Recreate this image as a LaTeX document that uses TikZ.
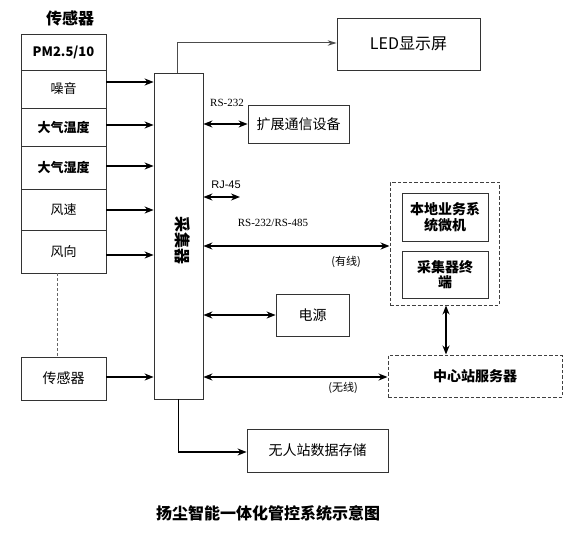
\documentclass[tikz,border=0pt]{standalone}
\usepackage{fontspec}
\setmainfont{Noto Sans CJK SC}
\newfontfamily\serifrs{Liberation Serif}
\newfontfamily\sansrs{Liberation Sans}
\usetikzlibrary{arrows.meta,calc}
\newcommand{\fs}[1]{\fontsize{#1}{#1}\selectfont}
\tikzset{
  box/.style={draw=black!80, line width=0.8pt, inner sep=0pt, align=center},
  dbox/.style={draw=black!75, line width=1pt, dash pattern=on 3.5pt off 2pt, inner sep=0pt, align=center},
  arr/.style={line width=1.5pt, -{Stealth[length=9pt,width=7pt]}},
  darr/.style={line width=1.5pt, {Stealth[length=9pt,width=7pt]}-{Stealth[length=9pt,width=7pt]}},
  thinarr/.style={draw=black!70, line width=1pt, -{Stealth[length=9pt,width=5.5pt]}},
  lbl/.style={inner sep=0pt},
}
\begin{document}
\begin{tikzpicture}[x=1pt,y=-1pt]
\useasboundingbox (0,0) rectangle (569,543);
% sensors
\node[lbl,font=\fs{16}\bfseries] (sttl) at (70,18) {传感器};
\node[box,minimum width=85,minimum height=36,font=\fs{13}\bfseries] (pm) at (63.5,52) {PM2.5/10};
\node[box,minimum width=85,minimum height=38,font=\fs{13}] (zy) at (63.5,89) {噪音};
\node[box,minimum width=85,minimum height=38,font=\fs{13}\bfseries] (wd) at (63.5,127) {大气温度};
\node[box,minimum width=85,minimum height=43,font=\fs{13}\bfseries] (sd) at (63.5,167.5) {大气湿度};
\node[box,minimum width=85,minimum height=41,font=\fs{13}] (fs) at (63.5,209.5) {风速};
\node[box,minimum width=85,minimum height=43,font=\fs{13}] (fx) at (63.5,251.5) {风向};
\node[box,minimum width=85,minimum height=43,font=\fs{14}] (cg) at (63.5,378.5) {传感器};
% collector
\node[box,minimum width=49,minimum height=326] (coll) at (178.5,236) {};
\node[lbl,rotate=-90,font=\fs{16}\bfseries] (colltxt) at (183,240) {采集器};
% right side boxes
\node[box,minimum width=143,minimum height=52,font=\fs{16}] (led) at (408.5,44) {LED显示屏};
\node[box,minimum width=101,minimum height=38,font=\fs{14}] (ext) at (298.5,124) {扩展通信设备};
\node[box,minimum width=73,minimum height=42,font=\fs{14}] (pw) at (312.5,315) {电源};
\node[box,minimum width=141,minimum height=43,font=\fs{14}] (st) at (317.5,450.5) {无人站数据存储};
\node[dbox,minimum width=109,minimum height=123] (grp) at (444.5,243.5) {};
\node[box,minimum width=86,minimum height=48,font=\fs{14}\bfseries] (loc) at (445,217) {本地业务系\\[2pt]统微机};
\node[box,minimum width=86,minimum height=47,font=\fs{14}\bfseries] (term) at (445,274.5) {采集器终\\[1pt]端};
\node[dbox,minimum width=174,minimum height=42,font=\fs{14}\bfseries] (srv) at (475,376) {中心站服务器};
% sensor arrows
\draw[arr] ([yshift=7pt]zy.east) -- ([yshift=7pt]zy.east -| coll.west);
\draw[arr] ([yshift=2pt]wd.east) -- ([yshift=2pt]wd.east -| coll.west);
\draw[arr] ([yshift=1.5pt]sd.east) -- ([yshift=1.5pt]sd.east -| coll.west);
\draw[arr] ([yshift=-0.5pt]fs.east) -- ([yshift=-0.5pt]fs.east -| coll.west);
\draw[arr] ([yshift=-3.5pt]fx.east) -- ([yshift=-3.5pt]fx.east -| coll.west);
\draw[arr] ([yshift=1.5pt]cg.east) -- ([yshift=1.5pt]cg.east -| coll.west);
\draw[draw=black!60, line width=0.9pt, dash pattern=on 3pt off 2pt] ([xshift=-6.5pt]fx.south) -- ([xshift=-6.5pt]cg.north);
% collector outputs
\draw[thinarr] ([xshift=-1.5pt]coll.north) |- ([yshift=1pt]led.west);
\draw[darr] (ext.west -| coll.east) -- (ext.west);
\node[lbl,font=\serifrs\fs{11}] (l232) at (227,103) {RS-232};
\coordinate (rj) at (240,197);
\draw[darr] (rj -| coll.east) -- (rj);
\node[lbl,font=\sansrs\fs{11}] (l45) at (226,185) {RJ-45};
\draw[darr] ([yshift=-2.5pt]grp.west -| coll.east) -- ([yshift=-2.5pt]grp.west);
\node[lbl,font=\serifrs\fs{11}] (l485) at (273,223) {RS-232/RS-485};
\node[lbl,font=\fs{11}] (wired) at (346,262) {(有线)};
\draw[darr] (pw.west -| coll.east) -- (pw.west);
\draw[darr] ([yshift=-1pt]srv.west -| coll.east) -- ([yshift=-1pt]srv.west);
\node[lbl,font=\fs{11}] (wless) at (343,388) {(无线)};
\draw[darr] ([xshift=1.5pt]grp.south) -- ([xshift=1.5pt]grp.south |- srv.north);
\draw[arr] (coll.south) |- ([yshift=-1.5pt]st.west);
% title
\node[lbl,font=\fs{16}\bfseries] (title) at (268,513) {扬尘智能一体化管控系统示意图};
\end{tikzpicture}
\end{document}
